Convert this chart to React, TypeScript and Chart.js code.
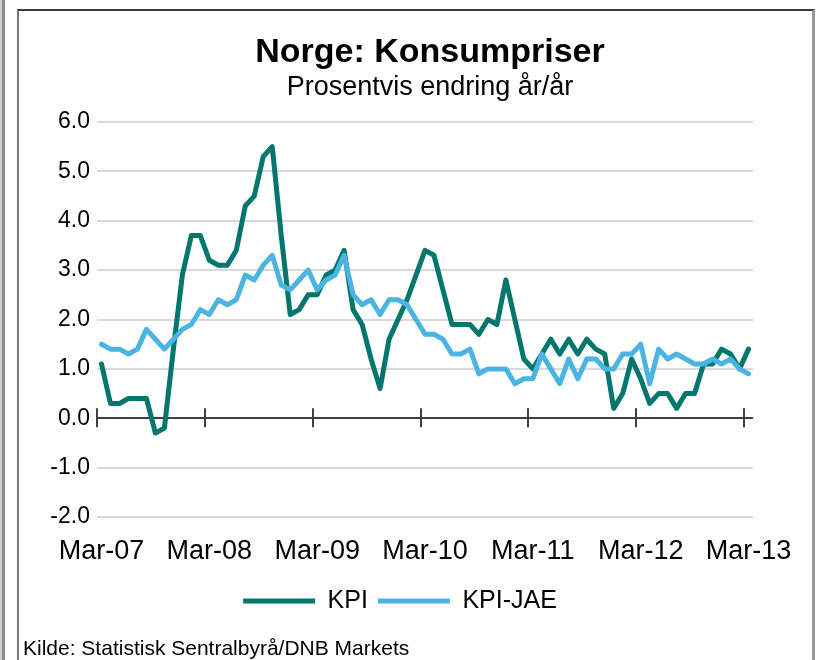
import React, { useEffect, useRef } from 'react';
import { Chart, registerables } from 'chart.js';

Chart.register(...registerables);

const MONTHS = ['Jan', 'Feb', 'Mar', 'Apr', 'May', 'Jun', 'Jul', 'Aug', 'Sep', 'Oct', 'Nov', 'Dec'];
const START_YEAR = 2007;
const START_MONTH = 2; // Mar
const N_MONTHS = 73; // Mar-07 .. Mar-13

const categories: string[] = Array.from({ length: N_MONTHS }, (_, i) => {
  const m = (START_MONTH + i) % 12;
  const y = START_YEAR + Math.floor((START_MONTH + i) / 12);
  return `${MONTHS[m]}-${String(y % 100).padStart(2, '0')}`;
});

const kpi: number[] = [
  1.1, 0.3, 0.3, 0.4, 0.4, 0.4, -0.3, -0.2, 1.4, 2.9, 3.7, 3.7,
  3.2, 3.1, 3.1, 3.4, 4.3, 4.5, 5.3, 5.5, 3.7, 2.1, 2.2, 2.5,
  2.5, 2.9, 3.0, 3.4, 2.2, 1.9, 1.2, 0.6, 1.6, 2.0, 2.4, 2.9,
  3.4, 3.3, 2.6, 1.9, 1.9, 1.9, 1.7, 2.0, 1.9, 2.8, 2.0, 1.2,
  1.0, 1.3, 1.6, 1.3, 1.6, 1.3, 1.6, 1.4, 1.3, 0.2, 0.5, 1.2,
  0.8, 0.3, 0.5, 0.5, 0.2, 0.5, 0.5, 1.1, 1.1, 1.4, 1.3, 1.0,
  1.4,
];

const kpiJae: number[] = [
  1.5, 1.4, 1.4, 1.3, 1.4, 1.8, 1.6, 1.4, 1.6, 1.8, 1.9, 2.2,
  2.1, 2.4, 2.3, 2.4, 2.9, 2.8, 3.1, 3.3, 2.7, 2.6, 2.8, 3.0,
  2.6, 2.8, 2.9, 3.3, 2.5, 2.3, 2.4, 2.1, 2.4, 2.4, 2.3, 2.0,
  1.7, 1.7, 1.6, 1.3, 1.3, 1.4, 0.9, 1.0, 1.0, 1.0, 0.7, 0.8,
  0.8, 1.3, 1.0, 0.7, 1.2, 0.8, 1.2, 1.2, 1.0, 1.0, 1.3, 1.3,
  1.5, 0.7, 1.4, 1.2, 1.3, 1.2, 1.1, 1.1, 1.2, 1.1, 1.2, 1.0,
  0.9,
];

const seriesNames = ['KPI', 'KPI-JAE'];
const seriesColors = ['#00766D', '#4CB4E2'];
const yTicks = { min: -2, max: 6, step: 1 };
const TICK_EVERY = 12;

const FONT = "'Liberation Sans', Arial, sans-serif";

const axisTicksPlugin = {
  id: 'axisTicks',
  beforeDatasetsDraw(chart: any) {
    const xs = chart.scales.x;
    const ys = chart.scales.y;
    const ctx = chart.ctx;
    const y0 = ys.getPixelForValue(0);
    const half = (xs.getPixelForValue(1) - xs.getPixelForValue(0)) / 2;
    ctx.save();
    ctx.strokeStyle = '#404040';
    ctx.lineWidth = 2;
    ctx.beginPath();
    for (let i = 0; i < categories.length; i += TICK_EVERY) {
      const x = Math.round(xs.getPixelForValue(i) - half);
      ctx.moveTo(x, y0 - 10);
      ctx.lineTo(x, y0 + 9);
    }
    ctx.stroke();
    ctx.restore();
  },
};

function ChartCanvas() {
  const ref = useRef<HTMLCanvasElement | null>(null);
  useEffect(() => {
    if (!ref.current) return;
    Chart.defaults.font.family = FONT;
    Chart.defaults.color = '#000';
    const chart = new Chart(ref.current, {
      type: 'line',
      data: {
        labels: categories,
        datasets: [
          {
            label: seriesNames[0],
            data: kpi,
            borderColor: seriesColors[0],
            backgroundColor: seriesColors[0],
            borderWidth: 5,
            pointRadius: 0,
            tension: 0,
            borderJoinStyle: 'round',
            borderCapStyle: 'round',
            order: 1,
          },
          {
            label: seriesNames[1],
            data: kpiJae,
            borderColor: seriesColors[1],
            backgroundColor: seriesColors[1],
            borderWidth: 5,
            pointRadius: 0,
            tension: 0,
            borderJoinStyle: 'round',
            borderCapStyle: 'round',
            order: 0,
          },
        ],
      },
      options: {
        animation: false,
        responsive: false,
        maintainAspectRatio: false,
        layout: { padding: { top: 111, left: 28, right: 58, bottom: 36.5 } },
        plugins: {
          title: { display: false },
          tooltip: { enabled: false },
          legend: {
            display: true,
            position: 'bottom',
            labels: {
              boxWidth: 72,
              boxHeight: 5,
              padding: 10,
              color: '#000',
              font: { size: 25, family: FONT },
              useBorderRadius: true,
              borderRadius: 2.5,
              generateLabels: (ch: any) =>
                ch.data.datasets.map((ds: any, i: number) => ({
                  text: ds.label,
                  fillStyle: ds.borderColor,
                  strokeStyle: ds.borderColor,
                  lineWidth: 0,
                  hidden: false,
                  datasetIndex: i,
                  fontColor: '#000',
                })),
            },
          },
        },
        scales: {
          x: {
            type: 'category',
            offset: true,
            border: { display: false },
            grid: { display: false, drawTicks: false },
            ticks: {
              autoSkip: false,
              maxRotation: 0,
              minRotation: 0,
              padding: 18.3,
              color: '#000',
              font: { size: 27, family: FONT },
              callback: (_v: any, idx: number) => (idx % TICK_EVERY === 0 ? categories[idx] : ''),
            },
            afterFit: (scale: any) => {
              scale.height = 61.5;
            },
          },
          y: {
            min: yTicks.min,
            max: yTicks.max,
            border: { display: false },
            grid: {
              drawTicks: false,
              lineWidth: 2,
              color: (c: any) => (c.tick && c.tick.value === 0 ? '#404040' : '#D9D9D9'),
            },
            ticks: {
              stepSize: yTicks.step,
              padding: 7,
              color: '#000',
              font: { size: 23, family: FONT },
              callback: (v: any) => Number(v).toFixed(1),
            },
            afterFit: (scale: any) => {
              scale.width = 50;
            },
          },
        },
      },
      plugins: [axisTicksPlugin],
    } as any);
    return () => chart.destroy();
  }, []);
  return (
    <canvas
      ref={ref}
      width={792}
      height={649}
      style={{ position: 'absolute', left: 19, top: 11, width: 792, height: 649 }}
    />
  );
}

export default function App() {
  return (
    <div
      style={{
        position: 'absolute',
        left: 0,
        top: 0,
        width: 819,
        height: 660,
        overflow: 'hidden',
        background: '#fff',
        fontFamily: FONT,
      }}
    >
      <div style={{ position: 'absolute', left: 0, top: 0, width: 2, height: 660, background: '#cfcfcf' }} />
      <div style={{ position: 'absolute', left: 2, top: 0, width: 3, height: 660, background: '#8c8c8c' }} />
      <div
        style={{
          position: 'absolute',
          left: 17,
          top: 9,
          width: 798,
          height: 700,
          boxSizing: 'border-box',
          borderTop: '2px solid #3c3c3c',
          borderLeft: '2px solid #7a7a7a',
          borderRight: '3px solid #9a9a9a',
        }}
      />
      <ChartCanvas />
      <div
        style={{
          position: 'absolute',
          left: 130,
          top: 33,
          width: 600,
          textAlign: 'center',
          fontWeight: 'bold',
          fontSize: 34,
          lineHeight: '34px',
          color: '#000',
          whiteSpace: 'nowrap',
        }}
      >
        Norge: Konsumpriser
      </div>
      <div
        style={{
          position: 'absolute',
          left: 130,
          top: 73,
          width: 600,
          textAlign: 'center',
          fontSize: 27,
          lineHeight: '27px',
          color: '#000',
          whiteSpace: 'nowrap',
        }}
      >
        Prosentvis endring år/år
      </div>
      <div
        style={{
          position: 'absolute',
          left: 23,
          top: 637,
          fontSize: 21,
          lineHeight: '21px',
          color: '#000',
          whiteSpace: 'nowrap',
        }}
      >
        Kilde: Statistisk Sentralbyrå/DNB Markets
      </div>
    </div>
  );
}
